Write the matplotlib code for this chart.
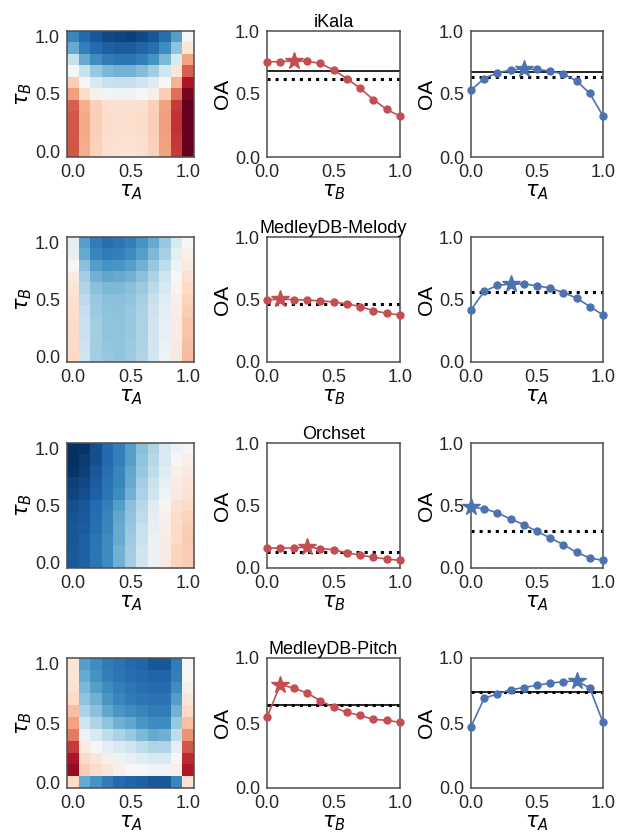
import numpy as np
import matplotlib
matplotlib.use('Agg')
import matplotlib.pyplot as plt

plt.rcParams['font.family'] = ['Liberation Sans', 'DejaVu Sans']
plt.rcParams['mathtext.fontset'] = 'dejavusans'

datasets = ['iKala', 'MedleyDB-Melody', 'Orchset', 'MedleyDB-Pitch']
taus = [0.0, 0.1, 0.2, 0.3, 0.4, 0.5, 0.6, 0.7, 0.8, 0.9, 1.0]

# heatmap colour values (-1 = dark red, 1 = dark blue), rows from tau_B = 1.0 down to 0.0
heat_ikala = [
    [0.65, 0.78, 0.85, 0.90, 0.92, 0.93, 0.90, 0.85, 0.75, 0.55, 0.02],
    [0.50, 0.68, 0.78, 0.82, 0.83, 0.83, 0.80, 0.75, 0.62, 0.40, -0.12],
    [0.22, 0.50, 0.62, 0.70, 0.72, 0.72, 0.68, 0.60, 0.45, 0.15, -0.40],
    [0.02, 0.22, 0.38, 0.45, 0.47, 0.47, 0.43, 0.35, 0.20, -0.12, -0.60],
    [-0.25, 0.02, 0.15, 0.22, 0.23, 0.23, 0.20, 0.12, 0.00, -0.35, -0.82],
    [-0.42, -0.18, -0.04, 0.03, 0.04, 0.04, 0.02, -0.06, -0.25, -0.55, -0.95],
    [-0.60, -0.36, -0.24, -0.17, -0.15, -0.15, -0.17, -0.24, -0.40, -0.70, -1.00],
    [-0.62, -0.38, -0.25, -0.18, -0.16, -0.16, -0.18, -0.25, -0.42, -0.72, -1.00],
    [-0.62, -0.38, -0.25, -0.18, -0.16, -0.16, -0.18, -0.25, -0.42, -0.72, -1.00],
    [-0.62, -0.37, -0.24, -0.17, -0.15, -0.15, -0.17, -0.24, -0.41, -0.71, -1.00],
    [-0.62, -0.36, -0.23, -0.16, -0.14, -0.14, -0.16, -0.23, -0.40, -0.70, -1.00],
]
heat_melody = [
    [0.10, 0.55, 0.70, 0.75, 0.73, 0.68, 0.60, 0.50, 0.38, 0.15, 0.00],
    [0.08, 0.50, 0.65, 0.70, 0.68, 0.63, 0.55, 0.45, 0.33, 0.10, -0.05],
    [0.00, 0.42, 0.55, 0.60, 0.58, 0.55, 0.48, 0.38, 0.25, 0.05, -0.10],
    [-0.08, 0.35, 0.48, 0.52, 0.50, 0.48, 0.42, 0.32, 0.20, 0.00, -0.15],
    [-0.12, 0.30, 0.42, 0.45, 0.45, 0.42, 0.36, 0.26, 0.15, -0.02, -0.20],
    [-0.15, 0.26, 0.38, 0.42, 0.42, 0.40, 0.33, 0.22, 0.12, -0.05, -0.22],
    [-0.17, 0.23, 0.36, 0.40, 0.41, 0.38, 0.32, 0.21, 0.10, -0.07, -0.25],
    [-0.18, 0.22, 0.35, 0.40, 0.40, 0.38, 0.32, 0.20, 0.08, -0.08, -0.28],
    [-0.18, 0.22, 0.35, 0.40, 0.40, 0.38, 0.32, 0.20, 0.08, -0.08, -0.28],
    [-0.19, 0.21, 0.35, 0.39, 0.40, 0.37, 0.31, 0.19, 0.06, -0.09, -0.30],
    [-0.20, 0.20, 0.35, 0.38, 0.40, 0.36, 0.30, 0.18, 0.05, -0.10, -0.32],
]
heat_orchset = [
    [1.00, 0.98, 0.88, 0.78, 0.68, 0.55, 0.42, 0.30, 0.15, 0.05, 0.02],
    [1.00, 0.95, 0.88, 0.78, 0.68, 0.55, 0.40, 0.28, 0.15, 0.00, -0.05],
    [0.98, 0.93, 0.85, 0.76, 0.65, 0.52, 0.38, 0.25, 0.12, -0.05, -0.08],
    [0.93, 0.90, 0.83, 0.74, 0.65, 0.50, 0.35, 0.22, 0.08, -0.08, -0.12],
    [0.92, 0.88, 0.82, 0.72, 0.62, 0.48, 0.32, 0.20, 0.05, -0.10, -0.15],
    [0.88, 0.85, 0.78, 0.68, 0.55, 0.42, 0.28, 0.12, -0.02, -0.15, -0.20],
    [0.86, 0.84, 0.76, 0.66, 0.52, 0.40, 0.25, 0.10, -0.05, -0.18, -0.22],
    [0.85, 0.83, 0.75, 0.65, 0.50, 0.38, 0.22, 0.08, -0.06, -0.20, -0.25],
    [0.85, 0.82, 0.73, 0.63, 0.50, 0.36, 0.22, 0.06, -0.08, -0.20, -0.26],
    [0.84, 0.82, 0.72, 0.62, 0.48, 0.35, 0.20, 0.05, -0.08, -0.22, -0.25],
    [0.84, 0.82, 0.72, 0.62, 0.48, 0.35, 0.20, 0.05, -0.10, -0.22, -0.25],
]
heat_pitch = [
    [-0.12, 0.55, 0.62, 0.70, 0.74, 0.78, 0.80, 0.85, 0.85, 0.70, 0.02],
    [-0.12, 0.50, 0.60, 0.68, 0.72, 0.76, 0.78, 0.80, 0.80, 0.68, -0.02],
    [-0.15, 0.45, 0.55, 0.63, 0.68, 0.72, 0.75, 0.77, 0.77, 0.62, -0.05],
    [-0.20, 0.40, 0.48, 0.58, 0.65, 0.70, 0.72, 0.74, 0.74, 0.55, -0.12],
    [-0.30, 0.32, 0.42, 0.52, 0.58, 0.62, 0.66, 0.70, 0.70, 0.48, -0.20],
    [-0.40, 0.20, 0.30, 0.40, 0.48, 0.52, 0.58, 0.62, 0.62, 0.38, -0.30],
    [-0.52, 0.05, 0.15, 0.25, 0.32, 0.38, 0.45, 0.50, 0.48, 0.25, -0.45],
    [-0.70, -0.10, 0.02, 0.10, 0.15, 0.20, 0.25, 0.30, 0.30, 0.10, -0.62],
    [-0.82, -0.20, -0.12, -0.05, 0.05, 0.08, 0.12, 0.15, 0.15, 0.02, -0.75],
    [-0.88, -0.25, -0.18, -0.12, -0.05, 0.00, 0.02, 0.05, 0.05, -0.05, -0.80],
    [-0.20, 0.50, 0.60, 0.70, 0.78, 0.80, 0.82, 0.85, 0.85, 0.65, -0.15],
]
heatmaps = [heat_ikala, heat_melody, heat_orchset, heat_pitch]

# OA vs tau_B (middle column)
oa_b_ikala = [0.756, 0.756, 0.764, 0.760, 0.743, 0.690, 0.623, 0.544, 0.456, 0.377, 0.324]
oa_b_melody = [0.497, 0.503, 0.500, 0.495, 0.490, 0.480, 0.465, 0.444, 0.410, 0.390, 0.376]
oa_b_orchset = [0.160, 0.160, 0.160, 0.168, 0.155, 0.147, 0.120, 0.104, 0.085, 0.072, 0.061]
oa_b_pitch = [0.544, 0.795, 0.769, 0.731, 0.672, 0.621, 0.582, 0.558, 0.528, 0.521, 0.505]
oa_b = [oa_b_ikala, oa_b_melody, oa_b_orchset, oa_b_pitch]

# OA vs tau_A (right column)
oa_a_ikala = [0.530, 0.623, 0.668, 0.690, 0.700, 0.695, 0.682, 0.658, 0.605, 0.504, 0.326]
oa_a_melody = [0.417, 0.565, 0.613, 0.624, 0.624, 0.610, 0.591, 0.556, 0.511, 0.444, 0.376]
oa_a_orchset = [0.485, 0.475, 0.440, 0.392, 0.347, 0.293, 0.240, 0.187, 0.125, 0.080, 0.061]
oa_a_pitch = [0.472, 0.690, 0.724, 0.755, 0.773, 0.790, 0.807, 0.817, 0.825, 0.768, 0.505]
oa_a = [oa_a_ikala, oa_a_melody, oa_a_orchset, oa_a_pitch]

# reference lines: solid (None = not drawn) and dotted, per panel
solid_b = [0.684, None, None, 0.641]
dotted_b = [0.623, 0.462, 0.128, 0.641]
solid_a = [0.676, None, None, 0.742]
dotted_a = [0.631, 0.559, 0.299, 0.742]

red = '#c44e52'
blue = '#4c72b0'
spine_col = '0.3'

W, H = 618, 834
fig = plt.figure(figsize=(W / 100, H / 100), dpi=100)


def px_axes(x0, y0, x1, y1):
    return fig.add_axes([x0 / W, 1 - y1 / H, (x1 - x0) / W, (y1 - y0) / H])


def style(ax):
    for s in ax.spines.values():
        s.set_color(spine_col)
        s.set_linewidth(1.1)
    ax.tick_params(labelsize=13, length=0, pad=5, colors='0.15')


row_y = [(31, 157), (237, 362), (443, 568), (658, 788)]
ticks = [0.0, 0.5, 1.0]

for i in range(4):
    y0, y1 = row_y[i]
    # heatmap
    ax = px_axes(67, y0, 194, y1)
    ax.imshow(np.array(heatmaps[i]), cmap='RdBu', vmin=-1, vmax=1, origin='upper',
              extent=[-0.05, 1.05, -0.05, 1.05], aspect='auto', interpolation='nearest')
    ax.set_xticks(ticks)
    ax.set_yticks(ticks)
    ax.set_xlabel(r'$\tau_A$', fontsize=15, labelpad=1)
    ax.set_ylabel(r'$\tau_B$', fontsize=15, labelpad=1)
    style(ax)

    # OA vs tau_B
    ax = px_axes(267, y0, 400, y1)
    if solid_b[i] is not None:
        ax.axhline(solid_b[i], color='k', lw=1.2, zorder=1)
    ax.axhline(dotted_b[i], color='k', lw=2.2, ls=':', zorder=1)
    ax.plot(taus, oa_b[i], color=red, marker='o', ms=5, lw=1.2, zorder=3, clip_on=False)
    k = int(np.argmax(oa_b[i]))
    ax.plot(taus[k], oa_b[i][k], color=red, marker='*', ms=13, lw=0, zorder=4, clip_on=False)
    ax.set_xlim(0, 1)
    ax.set_ylim(0, 1)
    ax.set_xticks(ticks)
    ax.set_yticks(ticks)
    ax.set_xlabel(r'$\tau_B$', fontsize=15, labelpad=1)
    ax.set_ylabel('OA', fontsize=15, labelpad=2)
    ax.set_title(datasets[i], fontsize=13, pad=3)
    style(ax)

    # OA vs tau_A
    ax = px_axes(471, y0, 603, y1)
    if solid_a[i] is not None:
        ax.axhline(solid_a[i], color='k', lw=1.2, zorder=1)
    ax.axhline(dotted_a[i], color='k', lw=2.2, ls=':', zorder=1)
    ax.plot(taus, oa_a[i], color=blue, marker='o', ms=5, lw=1.2, zorder=3, clip_on=False)
    k = int(np.argmax(oa_a[i]))
    ax.plot(taus[k], oa_a[i][k], color=blue, marker='*', ms=13, lw=0, zorder=4, clip_on=False)
    ax.set_xlim(0, 1)
    ax.set_ylim(0, 1)
    ax.set_xticks(ticks)
    ax.set_yticks(ticks)
    ax.set_xlabel(r'$\tau_A$', fontsize=15, labelpad=1)
    ax.set_ylabel('OA', fontsize=15, labelpad=2)
    style(ax)

fig.savefig('out.png', dpi=100)
